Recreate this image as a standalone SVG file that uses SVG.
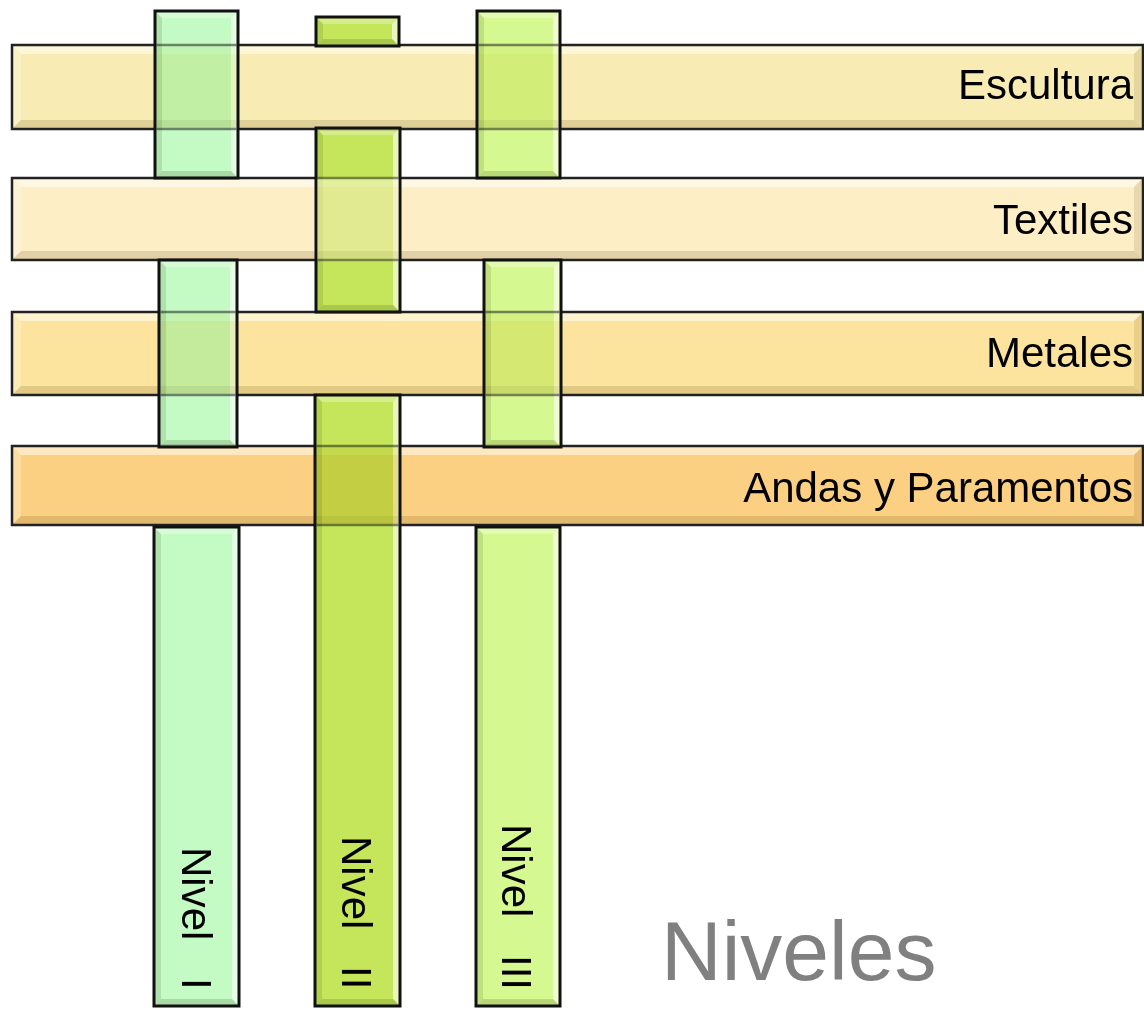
<svg xmlns="http://www.w3.org/2000/svg" xmlns:xlink="http://www.w3.org/1999/xlink" width="1144" height="1009" viewBox="0 0 1144 1009">
<style>
.lbl{font-family:"Liberation Sans",Arial,sans-serif;font-size:42px;fill:#000}
.big{font-family:"Liberation Sans",Arial,sans-serif;font-size:84px;fill:#808080}
.bd{fill:none;stroke:#222;stroke-width:2.5}
.vbd{fill:none;stroke:#111;stroke-width:3}
.ht{fill:#fff;opacity:.5}
.hs{fill:#fff;opacity:.25}
.hb{fill:#5a3c00;opacity:.16}
.hr{fill:#5a3c00;opacity:.12}
.vt{fill:#fff;opacity:.3}
.vl{fill:#203000;opacity:.12}
.vr{fill:#fff;opacity:.6}
.vb{fill:#203000;opacity:.16}
.mul{mix-blend-mode:multiply}
</style>
<defs>
<clipPath id="vclip">
<rect x="156.5" y="12.5" width="80" height="164"/>
<rect x="160.5" y="261.5" width="75" height="184"/>
<rect x="317.5" y="129.5" width="81" height="181"/>
<rect x="316.5" y="396.5" width="82" height="608"/>
<rect x="478.5" y="12.5" width="80" height="164"/>
<rect x="485.5" y="261.5" width="74" height="184"/>
</clipPath>
</defs>
<rect width="1144" height="1009" fill="#fff"/>

<!-- horizontal rows -->
<g id="escultura">
<g id="escultura-shape">
<rect x="12" y="45" width="1131" height="84" fill="#F8ECB4"/>
<polygon class="ht" points="12,45 1143,45 1134,54 21,54"/>
<polygon class="hs" points="12,45 21,54 21,120 12,129"/>
<polygon class="hb" points="12,129 1143,129 1134,120 21,120"/>
<polygon class="hr" points="1143,45 1143,129 1134,120 1134,54"/>
<rect class="bd" x="12" y="45" width="1131" height="84"/>
</g>
<text class="lbl" x="1133" y="99" text-anchor="end">Escultura</text>
</g>

<g id="textiles">
<g id="textiles-shape">
<rect x="12" y="178" width="1131" height="82" fill="#FDEEC6"/>
<polygon class="ht" points="12,178 1143,178 1134,187 21,187"/>
<polygon class="hs" points="12,178 21,187 21,251 12,260"/>
<polygon class="hb" points="12,260 1143,260 1134,251 21,251"/>
<polygon class="hr" points="1143,178 1143,260 1134,251 1134,187"/>
<rect class="bd" x="12" y="178" width="1131" height="82"/>
</g>
<text class="lbl" x="1133" y="234" text-anchor="end">Textiles</text>
</g>

<g id="metales">
<g id="metales-shape">
<rect x="12" y="312" width="1131" height="83" fill="#FDE49E"/>
<polygon class="ht" points="12,312 1143,312 1134,321 21,321"/>
<polygon class="hs" points="12,312 21,321 21,386 12,395"/>
<polygon class="hb" points="12,395 1143,395 1134,386 21,386"/>
<polygon class="hr" points="1143,312 1143,395 1134,386 1134,321"/>
<rect class="bd" x="12" y="312" width="1131" height="83"/>
</g>
<text class="lbl" x="1133" y="367" text-anchor="end">Metales</text>
</g>

<g id="andas">
<g id="andas-shape">
<rect x="12" y="446" width="1131" height="79" fill="#FCD083"/>
<polygon class="ht" points="12,446 1143,446 1134,455 21,455"/>
<polygon class="hs" points="12,446 21,455 21,516 12,525"/>
<polygon class="hb" points="12,525 1143,525 1134,516 21,516"/>
<polygon class="hr" points="1143,446 1143,525 1134,516 1134,455"/>
<rect class="bd" x="12" y="446" width="1131" height="79"/>
</g>
<text class="lbl" x="1133" y="502" text-anchor="end">Andas y Paramentos</text>
</g>

<!-- vertical columns -->
<g id="nivel-1">
<g>
<rect x="155" y="11" width="83" height="167" fill="#C4FAC4"/>
<polygon class="vt" points="155,11 238,11 231,18 162,18"/>
<polygon class="vl" points="155,11 162,18 162,171 155,178"/>
<polygon class="vr" points="238,11 238,178 231,171 231,18"/>
<polygon class="vb" points="155,178 238,178 231,171 162,171"/>
<rect class="vbd" x="155" y="11" width="83" height="167"/>
</g>
<g>
<rect x="159" y="260" width="78" height="187" fill="#C4FAC4"/>
<polygon class="vt" points="159,260 237,260 230,267 166,267"/>
<polygon class="vl" points="159,260 166,267 166,440 159,447"/>
<polygon class="vr" points="237,260 237,447 230,440 230,267"/>
<polygon class="vb" points="159,447 237,447 230,440 166,440"/>
<rect class="vbd" x="159" y="260" width="78" height="187"/>
</g>
<g>
<rect x="154" y="527" width="85" height="479" fill="#C4FAC4"/>
<polygon class="vt" points="154,527 239,527 232,534 161,534"/>
<polygon class="vl" points="154,527 161,534 161,999 154,1006"/>
<polygon class="vr" points="239,527 239,1006 232,999 232,534"/>
<polygon class="vb" points="154,1006 239,1006 232,999 161,999"/>
<rect class="vbd" x="154" y="527" width="85" height="479"/>
</g>
<text class="lbl" transform="translate(182 0) rotate(90)"><tspan x="847" y="0">Nivel </tspan><tspan x="978" y="0">I</tspan></text>
</g>

<g id="nivel-2">
<g>
<rect x="316" y="17" width="83" height="29" fill="#C5E65A"/>
<polygon class="vt" points="316,17 399,17 392,24 323,24"/>
<polygon class="vl" points="316,17 323,24 323,39 316,46"/>
<polygon class="vr" points="399,17 399,46 392,39 392,24"/>
<polygon class="vb" points="316,46 399,46 392,39 323,39"/>
<rect class="vbd" x="316" y="17" width="83" height="29"/>
</g>
<g>
<rect x="316" y="128" width="84" height="184" fill="#C5E65A"/>
<polygon class="vt" points="316,128 400,128 393,135 323,135"/>
<polygon class="vl" points="316,128 323,135 323,305 316,312"/>
<polygon class="vr" points="400,128 400,312 393,305 393,135"/>
<polygon class="vb" points="316,312 400,312 393,305 323,305"/>
<rect class="vbd" x="316" y="128" width="84" height="184"/>
</g>
<g>
<rect x="315" y="395" width="85" height="611" fill="#C5E65A"/>
<polygon class="vt" points="315,395 400,395 393,402 322,402"/>
<polygon class="vl" points="315,395 322,402 322,999 315,1006"/>
<polygon class="vr" points="400,395 400,1006 393,999 393,402"/>
<polygon class="vb" points="315,1006 400,1006 393,999 322,999"/>
<rect class="vbd" x="315" y="395" width="85" height="611"/>
</g>
<text class="lbl" transform="translate(342 0) rotate(90)"><tspan x="836" y="0">Nivel </tspan><tspan x="966" y="0">II</tspan></text>
</g>

<g id="nivel-3">
<g>
<rect x="477" y="11" width="83" height="167" fill="#D6F890"/>
<polygon class="vt" points="477,11 560,11 553,18 484,18"/>
<polygon class="vl" points="477,11 484,18 484,171 477,178"/>
<polygon class="vr" points="560,11 560,178 553,171 553,18"/>
<polygon class="vb" points="477,178 560,178 553,171 484,171"/>
<rect class="vbd" x="477" y="11" width="83" height="167"/>
</g>
<g>
<rect x="484" y="260" width="77" height="187" fill="#D6F890"/>
<polygon class="vt" points="484,260 561,260 554,267 491,267"/>
<polygon class="vl" points="484,260 491,267 491,440 484,447"/>
<polygon class="vr" points="561,260 561,447 554,440 554,267"/>
<polygon class="vb" points="484,447 561,447 554,440 491,440"/>
<rect class="vbd" x="484" y="260" width="77" height="187"/>
</g>
<g>
<rect x="476" y="527" width="84" height="479" fill="#D6F890"/>
<polygon class="vt" points="476,527 560,527 553,534 483,534"/>
<polygon class="vl" points="476,527 483,534 483,999 476,1006"/>
<polygon class="vr" points="560,527 560,1006 553,999 553,534"/>
<polygon class="vb" points="476,1006 560,1006 553,999 483,999"/>
<rect class="vbd" x="476" y="527" width="84" height="479"/>
</g>
<text class="lbl" transform="translate(502 0) rotate(90)"><tspan x="824" y="0">Nivel </tspan><tspan x="955" y="0">III</tspan></text>
</g>

<!-- translucent weave crossings -->
<g id="crossings">
<g class="mul" clip-path="url(#vclip)" opacity="0.55">
<use xlink:href="#escultura-shape" href="#escultura-shape"/>
<use xlink:href="#metales-shape" href="#metales-shape"/>
<use xlink:href="#andas-shape" href="#andas-shape"/>
</g>
<g clip-path="url(#vclip)" opacity="0.5">
<use xlink:href="#textiles-shape" href="#textiles-shape"/>
</g>
</g>

<g id="title">
<text class="big" x="661" y="980">Niveles</text>
</g>
</svg>
